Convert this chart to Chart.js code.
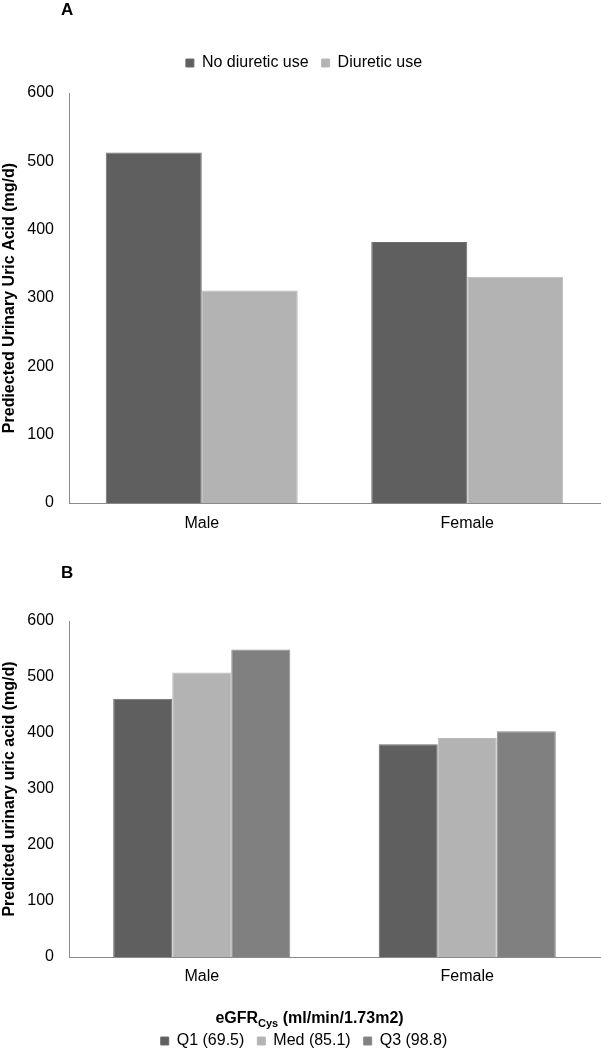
<!DOCTYPE html>
<html><head><meta charset="utf-8">
<script src="https://cdn.jsdelivr.net/npm/chart.js@4.4.1/dist/chart.umd.min.js"></script>
<style>
html,body{margin:0;padding:0;background:#fff;overflow:hidden;}
#wrap{position:relative;width:601px;height:1050px;overflow:hidden;background:#fff;}
#ca{position:absolute;left:0;top:0;}
#cb{position:absolute;left:0;top:545px;}
</style></head><body>
<div id="wrap"><canvas id="ca" width="601" height="545"></canvas><canvas id="cb" width="601" height="514"></canvas></div>
<script>
// ---- data ----
const sexes = ['Male', 'Female'];
const yTicks = [0, 100, 200, 300, 400, 500, 600];
const aSeriesNames = ['No diuretic use', 'Diuretic use'];
const aNoDiuretic = [513, 382];
const aDiuretic = [311, 331];
const bSeriesNames = ['Q1 (69.5)', 'Med (85.1)', 'Q3 (98.8)'];
const bQ1 = [461, 380];
const bMed = [508, 391];
const bQ3 = [549, 403];
const aYTitle = 'Prediected Urinary Uric Acid (mg/d)';
const bYTitle = 'Predicted urinary uric acid (mg/d)';

const FONT = '"Liberation Sans", Arial, Helvetica, sans-serif';
Chart.defaults.font.family = FONT;
Chart.defaults.font.size = 16;
Chart.defaults.color = '#000';

const DARK = '#5f5f5f', LIGHT = '#b3b3b3', MID = '#808080';
const AXIS = '#8a8a8a';

function panelLabel(txt, y) {
  return {
    id: 'panel' + txt,
    afterDraw(chart) {
      const ctx = chart.ctx;
      ctx.save();
      ctx.font = 'bold 17px ' + FONT;
      ctx.fillStyle = '#000';
      ctx.textBaseline = 'middle';
      ctx.textAlign = 'left';
      ctx.fillText(txt, 61, y);
      ctx.restore();
    }
  };
}

function yScale(title) {
  return {
    min: 0, max: 600,
    afterBuildTicks: s => { s.ticks = yTicks.map(v => ({ value: v })); },
    afterFit: s => { s.width = 61; },
    grid: { display: false, drawTicks: false },
    border: { display: true, color: AXIS, width: 1 },
    ticks: { padding: 15, color: '#000', font: { size: 16 } },
    title: { display: true, text: title, color: '#000', font: { size: 16, weight: 'bold' }, padding: { top: -8.3, bottom: 0 } }
  };
}

function xScale(h, pad) {
  return {
    afterFit: s => { s.height = h; },
    grid: { display: false, drawTicks: false },
    border: { display: true, color: AXIS, width: 1 },
    ticks: { padding: pad, color: '#000', font: { size: 16 } }
  };
}

// ---- Chart A ----
new Chart(document.getElementById('ca'), {
  type: 'bar',
  data: {
    labels: sexes,
    datasets: [
      { label: aSeriesNames[0], data: aNoDiuretic, backgroundColor: DARK, borderColor: '#6c6c6c', borderWidth: 1 },
      { label: aSeriesNames[1], data: aDiuretic, backgroundColor: LIGHT, borderColor: '#b9b9b9', borderWidth: 1 }
    ]
  },
  options: {
    responsive: false, animation: false, events: [],
    layout: { padding: { top: 42, left: 8, right: 1, bottom: 0 } },
    datasets: { bar: { barPercentage: 1, categoryPercentage: 0.723 } },
    scales: { x: xScale(42, 11), y: yScale(aYTitle) },
    plugins: {
      tooltip: { enabled: false },
      title: { display: true, text: '', weight: 500, padding: 0, font: { size: 12, lineHeight: 1 } },
      legend: {
        position: 'top',
        labels: { boxWidth: 8, boxHeight: 8, padding: 13, color: '#000', font: { size: 16 } }
      }
    }
  },
  plugins: [panelLabel('A', 10)]
});

// ---- Chart B ----
const legendTitlePlugin = {
  id: 'legendTitleB',
  afterDraw(chart) {
    const ctx = chart.ctx;
    ctx.save();
    const big = 'bold 16px ' + FONT, small = 'bold 11px ' + FONT;
    ctx.font = big;
    const w1 = ctx.measureText('eGFR').width;
    const w3 = ctx.measureText(' (ml/min/1.73m2)').width;
    ctx.font = small;
    const w2 = ctx.measureText('Cys').width;
    let x = 309.5 - (w1 + w2 + w3) / 2;
    const base = 478;
    ctx.fillStyle = '#000';
    ctx.textAlign = 'left';
    ctx.textBaseline = 'alphabetic';
    ctx.font = big; ctx.fillText('eGFR', x, base); x += w1;
    ctx.font = small; ctx.fillText('Cys', x, base + 4); x += w2;
    ctx.font = big; ctx.fillText(' (ml/min/1.73m2)', x, base);
    ctx.restore();
  }
};

new Chart(document.getElementById('cb'), {
  type: 'bar',
  data: {
    labels: sexes,
    datasets: [
      { label: bSeriesNames[0], data: bQ1, backgroundColor: DARK, borderColor: '#6c6c6c', borderWidth: 1 },
      { label: bSeriesNames[1], data: bMed, backgroundColor: LIGHT, borderColor: '#b9b9b9', borderWidth: 1 },
      { label: bSeriesNames[2], data: bQ3, backgroundColor: MID, borderColor: '#8a8a8a', borderWidth: 1 }
    ]
  },
  options: {
    responsive: false, animation: false, events: [],
    layout: { padding: { top: 76, left: 8, right: 1, bottom: 0 } },
    datasets: { bar: { barPercentage: 1, categoryPercentage: 0.667 } },
    scales: { x: xScale(63, 10), y: yScale(bYTitle) },
    plugins: {
      tooltip: { enabled: false },
      legend: {
        position: 'bottom',
        labels: { boxWidth: 8, boxHeight: 8, padding: 13, color: '#000', font: { size: 16 } }
      }
    }
  },
  plugins: [panelLabel('B', 28), legendTitlePlugin]
});
</script>
</body></html>
